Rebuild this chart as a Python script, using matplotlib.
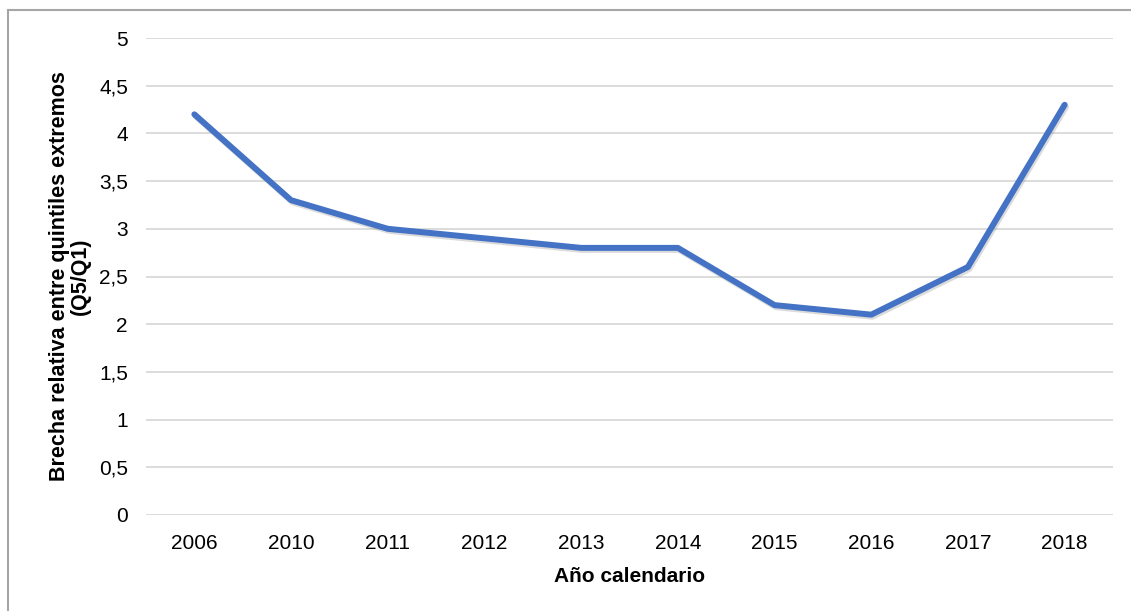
import matplotlib
matplotlib.use("Agg")
import matplotlib.pyplot as plt
from matplotlib.lines import Line2D
import matplotlib.patheffects as pe

plt.rcParams['font.family'] = ['Liberation Sans', 'DejaVu Sans']

years = ["2006", "2010", "2011", "2012", "2013", "2014", "2015", "2016", "2017", "2018"]
values = [4.2, 3.3, 3.0, 2.9, 2.8, 2.8, 2.2, 2.1, 2.6, 4.3]
yticks = [0, 0.5, 1, 1.5, 2, 2.5, 3, 3.5, 4, 4.5, 5]
ytick_labels = ["0", "0,5", "1", "1,5", "2", "2,5", "3", "3,5", "4", "4,5", "5"]

fig = plt.figure(figsize=(11.31, 6.11), dpi=100)
ax = fig.add_axes([146/1131, 1-515/611, (1113-146)/1131, (515-38)/611])

x = list(range(len(years)))
ax.plot(x, values, color='#4472C4', linewidth=4.3, solid_capstyle='round', solid_joinstyle='round',
        zorder=3,
        path_effects=[pe.SimpleLineShadow(offset=(1, -1.5), shadow_color='#888888', alpha=0.3),
                      pe.Normal()])

ax.set_xlim(-0.5, len(years) - 0.5)
ax.set_ylim(0, 5)
ax.set_yticks(yticks)
ax.set_yticklabels(ytick_labels)
ax.set_xticks(x)
ax.set_xticklabels(years)
ax.grid(axis='y', color='#D9D9D9', linewidth=1.3)
ax.set_axisbelow(True)
for s in ax.spines.values():
    s.set_visible(False)
ax.tick_params(axis='both', length=0, labelsize=15, colors='black')
ax.tick_params(axis='y', pad=13)
ax.tick_params(axis='x', pad=14)

ax.set_xlabel("Año calendario", fontsize=15, fontweight='bold', labelpad=10)
ax.set_ylabel("Brecha relativa entre quintiles extremos\n(Q5/Q1)", fontsize=15.5,
              fontweight='bold', labelpad=5.5, linespacing=1.0)

fig.add_artist(Line2D([8/1131, 8/1131], [0, 1-10/611], transform=fig.transFigure,
                      color='#A6A6A6', linewidth=1.5))
fig.add_artist(Line2D([8/1131, 1], [1-10/611, 1-10/611], transform=fig.transFigure,
                      color='#A6A6A6', linewidth=1.5))

fig.savefig("out.png", dpi=100)
